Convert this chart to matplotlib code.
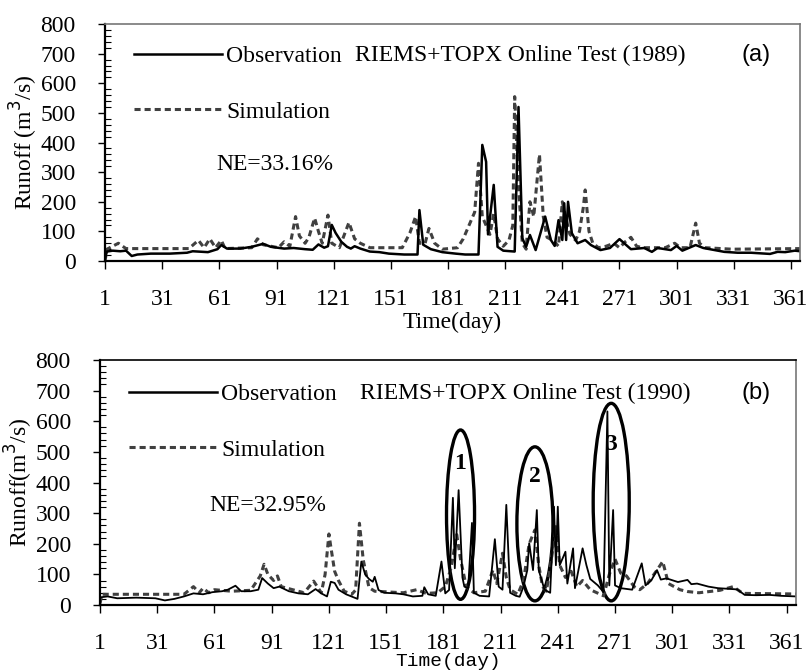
import matplotlib
matplotlib.use('Agg')
import matplotlib.pyplot as plt
from matplotlib.lines import Line2D
from matplotlib.patches import Ellipse
from matplotlib.ticker import MultipleLocator

plt.rcParams['font.family'] = ['Liberation Serif', 'DejaVu Serif']

# ---- 1989 (panel a) ----
obs89_day = [1, 2, 5, 9, 12, 15, 18, 25, 35, 44, 47, 55, 60, 62, 65, 72, 78, 84, 88, 95,
             100, 106, 110, 113, 116, 118, 120, 122, 125, 128, 130, 132, 135, 140, 145, 150,
             158, 165, 166, 168, 172, 178, 185, 190, 197, 199, 201, 202, 205, 207, 210, 216,
             218, 220, 222, 224, 227, 232, 235, 237, 239, 241, 242, 243, 244, 246, 249, 253,
             256, 261, 266, 271, 277, 284, 288, 291, 298, 301, 304, 311, 315, 326, 333, 340,
             350, 354, 358, 363, 366]
obs89_val = [10, 32, 35, 33, 35, 17, 22, 25, 25, 28, 33, 30, 40, 54, 42, 42, 48, 58, 48, 42,
             44, 40, 38, 56, 45, 50, 122, 95, 65, 48, 42, 50, 42, 32, 30, 25,
             22, 22, 172, 55, 40, 30, 25, 22, 22, 392, 335, 90, 257, 48, 35, 32,
             520, 77, 48, 88, 37, 150, 71, 51, 138, 71, 195, 71, 200, 94, 60, 71,
             54, 37, 44, 74, 40, 44, 31, 44, 37, 51, 35, 54, 44, 31, 28, 28,
             24, 31, 30, 35, 33]

sim89_day = [1, 2, 8, 12, 45, 50, 53, 56, 59, 62, 64, 78, 81, 84, 92, 95, 98, 101, 103, 106,
             108, 111, 113, 115, 118, 120, 124, 129, 132, 135, 140, 157, 161, 164, 166, 169,
             171, 174, 178, 186, 189, 192, 195, 197, 199, 201, 203, 205, 207, 210, 213, 215,
             216, 218, 220, 222, 224, 226, 229, 231, 233, 236, 239, 241, 243, 245, 248, 250,
             252, 253, 255, 257, 260, 264, 268, 271, 274, 277, 280, 283, 295, 300, 303, 308,
             311, 313, 316, 330, 366]
sim89_val = [0, 40, 60, 42, 42, 70, 45, 75, 45, 70, 42, 45, 75, 55, 45, 65, 50, 150, 85, 60,
             80, 145, 100, 60, 155, 60, 45, 130, 75, 60, 45, 45, 95, 150, 60, 60,
             110, 60, 40, 45, 75, 120, 165, 330, 150, 120, 90, 160, 75, 50, 70, 120,
             555, 250, 60, 40, 200, 150, 360, 150, 80, 70, 50, 200, 140, 90, 70, 100,
             180, 240, 100, 60, 45, 50, 60, 45, 65, 80, 50, 45, 45, 60, 45, 45,
             128, 60, 45, 40, 42]

# ---- 1990 (panel b) ----
obs90_day = [1, 5, 10, 20, 30, 35, 40, 45, 50, 55, 60, 65, 68, 72, 75, 80, 84, 86, 89, 92,
             95, 100, 105, 110, 114, 117, 120, 122, 124, 126, 130, 134, 136, 138, 140, 142,
             144, 145, 147, 150, 156, 160, 165, 170, 171, 173, 177, 180, 182, 184, 186, 187,
             189, 191, 192, 194, 196, 197, 200, 205, 208, 210, 212, 214, 216, 219, 221, 223,
             225, 226, 228, 230, 231, 234, 237, 239, 240, 241, 242, 245, 246, 249, 250, 254,
             256, 258, 262, 265, 267, 268, 270, 271, 274, 280, 285, 287, 290, 293, 295, 298,
             304, 309, 311, 314, 320, 325, 335, 339, 345, 352, 358, 366]
obs90_val = [25, 28, 22, 24, 22, 15, 20, 28, 38, 35, 42, 45, 50, 63, 45, 45, 50, 88, 70, 55,
             60, 45, 38, 35, 52, 38, 28, 76, 72, 50, 35, 25, 20, 142, 100, 85,
             76, 92, 49, 40, 38, 35, 28, 30, 58, 35, 30, 142, 38, 49, 350, 120,
             375, 90, 60, 55, 268, 40, 30, 28, 215, 60, 50, 327, 40, 30, 27, 60,
             114, 202, 114, 310, 114, 50, 40, 321, 130, 321, 130, 174, 70, 185, 55, 185,
             130, 85, 64, 42, 632, 64, 310, 64, 55, 50, 136, 64, 80, 114, 83, 87,
             75, 82, 68, 70, 60, 55, 51, 33, 32, 33, 30, 28]

sim90_day = [1, 2, 45, 50, 53, 55, 58, 61, 70, 80, 85, 87, 89, 92, 94, 96, 102, 108, 113, 117,
             119, 121, 122, 124, 126, 129, 133, 135, 137, 139, 142, 145, 160, 167, 172, 178,
             182, 185, 188, 190, 193, 197, 203, 207, 209, 212, 214, 216, 220, 223, 226, 229,
             231, 233, 235, 237, 240, 242, 245, 248, 251, 254, 258, 265, 268, 271, 274, 277,
             281, 284, 288, 293, 296, 299, 305, 309, 315, 326, 333, 338, 366]
sim90_val = [5, 35, 35, 60, 40, 55, 40, 50, 45, 48, 95, 133, 100, 80, 95, 60, 50, 40, 78, 40,
             100, 232, 190, 110, 80, 45, 35, 49, 267, 147, 57, 45, 40, 50, 38, 40,
             60, 120, 230, 150, 60, 40, 45, 114, 70, 169, 90, 50, 35, 80, 200, 245,
             130, 60, 45, 120, 256, 130, 90, 110, 60, 80, 50, 30, 100, 150, 104, 95,
             60, 50, 70, 114, 142, 70, 50, 44, 40, 48, 60, 38, 36]

# circled events in 1990: centre day, centre value, width (days), height
ell_day = [190, 229, 269]
ell_val = [295, 265, 336]
ell_w = [14.7, 18.9, 18.9]
ell_h = [553, 503, 645]
ell_lab = ['1', '2', '3']
ell_lab_val = [463, 419, 523]

xticks = list(range(1, 362, 30))

fig = plt.figure(figsize=(8.08, 6.7), dpi=100)
ax1 = fig.add_axes([0.130, 0.6104, 0.860, 0.3537])
ax2 = fig.add_axes([0.1238, 0.0970, 0.8614, 0.3657])

sim_ls = (0, (2.0, 1.3))


def style_axis(ax, xmax):
    ax.set_xlim(1, xmax)
    ax.set_ylim(0, 800)
    ax.set_xticks(xticks)
    ax.set_yticks(range(0, 801, 100))
    ax.yaxis.set_minor_locator(MultipleLocator(20))
    ax.tick_params(axis='x', direction='out', length=6, width=1, pad=14, labelsize=17)
    ax.tick_params(axis='y', which='major', direction='out', length=5, width=1, pad=16, labelsize=17)
    ax.tick_params(axis='y', which='minor', direction='in', length=4, width=0.8)
    ax.spines['left'].set_linewidth(1.6)
    ax.spines['bottom'].set_linewidth(1.6)
    ax.spines['top'].set_color('#777777')
    ax.spines['right'].set_color('#777777')
    ax.spines['top'].set_linewidth(1.2)
    ax.spines['right'].set_linewidth(1.2)


def add_legend(ax, y_anchor):
    handles = [Line2D([], [], color='black', lw=1.8),
               Line2D([], [], color='#404040', lw=2.2, ls=sim_ls)]
    ax.legend(handles, ['Observation', 'Simulation'], loc='upper left',
              bbox_to_anchor=(0.042, y_anchor), frameon=False, fontsize=17,
              handlelength=3.7, handletextpad=0.2, labelspacing=1.45, borderpad=0,
              borderaxespad=0)


# panel (a)
ax1.plot(sim89_day, sim89_val, color='#404040', lw=2.2, ls=sim_ls)
ax1.plot(obs89_day, obs89_val, color='black', lw=1.8)
style_axis(ax1, 365.7)
add_legend(ax1, 0.91)
ax1.text(0.36, 0.869, 'RIEMS+TOPX Online Test (1989)', transform=ax1.transAxes,
         fontsize=17, va='center', ha='left')
ax1.text(0.937, 0.869, '(a)', transform=ax1.transAxes, fontsize=17, va='center',
         ha='center', family='Liberation Sans')
ax1.text(0.16, 0.409, 'NE=33.16%', transform=ax1.transAxes, fontsize=17, va='center')
ax1.set_ylabel('Runoff (m$^3$/s)', fontsize=17, labelpad=0)
ax1.set_xlabel('Time(day)', fontsize=17)
ax1.xaxis.set_label_coords(0.5, -0.213)

# panel (b)
ax2.plot(sim90_day, sim90_val, color='#404040', lw=2.2, ls=sim_ls)
ax2.plot(obs90_day, obs90_val, color='black', lw=1.3)
style_axis(ax2, 365.9)
ax2.spines['top'].set_color('black')
add_legend(ax2, 0.905)
ax2.text(0.374, 0.865, 'RIEMS+TOPX Online Test (1990)', transform=ax2.transAxes,
         fontsize=17, va='center', ha='left')
ax2.text(0.943, 0.865, '(b)', transform=ax2.transAxes, fontsize=17, va='center',
         ha='center', family='Liberation Sans')
ax2.text(0.157, 0.408, 'NE=32.95%', transform=ax2.transAxes, fontsize=17, va='center')
ax2.set_ylabel('Runoff(m$^3$/s)', fontsize=17, labelpad=0)
ax2.set_xlabel('Time(day)', fontsize=14, family='Liberation Mono')
ax2.xaxis.set_label_coords(0.5, -0.194)

for d, v, w, h, lab, lv in zip(ell_day, ell_val, ell_w, ell_h, ell_lab, ell_lab_val):
    ax2.add_patch(Ellipse((d, v), w, h, fill=False, edgecolor='black', lw=2.4))
    ax2.text(d, lv, lab, fontsize=17, fontweight='bold', ha='center', va='center')

fig.savefig('out.png', dpi=100)
